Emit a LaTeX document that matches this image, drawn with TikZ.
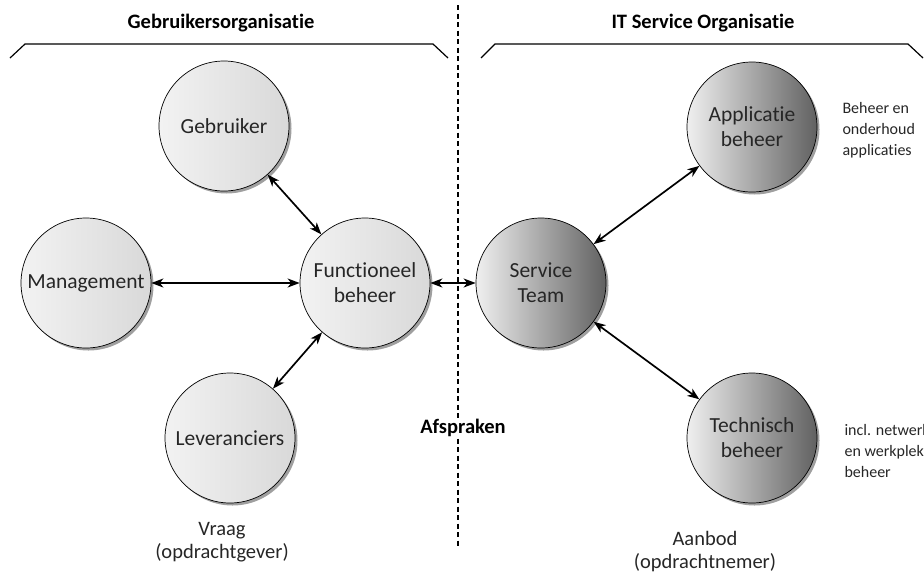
\documentclass[tikz,border=0pt]{standalone}
\usepackage{fontspec}
\setmainfont{Carlito}[Ligatures=NoCommon]
\usetikzlibrary{arrows.meta,shadows}
\begin{document}
\begin{tikzpicture}[x=1pt,y=-1pt,
  ball/.style={circle, draw=black, line width=0.7pt, minimum size=130pt, inner sep=0pt,
    align=center, text=black!85, font=\fontsize{21.5}{25}\selectfont,
    drop shadow={shadow xshift=2.5pt, shadow yshift=-2.5pt, fill=gray!75, opacity=1}},
  userball/.style={ball, left color=gray!10, right color=gray!30},
  itball/.style={ball, left color=gray!12, right color=black!62},
  link/.style={line width=1.7pt, {Stealth[length=12pt,width=9pt,inset=3.5pt]}-{Stealth[length=12pt,width=9pt,inset=3.5pt]}},
  bracket/.style={line width=1.2pt},
  title/.style={font=\bfseries\fontsize{20.5}{24}\selectfont},
  note/.style={font=\fontsize{16}{21}\selectfont, align=left, anchor=west, text=black!85},
  caption/.style={font=\fontsize{20.5}{23}\selectfont, align=center, text=black!85}]
\useasboundingbox (0,0) rectangle (924,574);
\clip (0,0) rectangle (924,574);

% dividing line between the two organisations
\draw[line width=1.1pt, dash pattern=on 5pt off 3.5pt] (458,5) -- (458,546);

% headings and brackets
\node[title] (tuser) at (221,23) {Gebruikersorganisatie};
\node[title] (tit) at (703,23) {IT Service Organisatie};
\draw[bracket] (10,58) -- (25,44) -- (433,44) -- (448,58);
\draw[bracket] (481,58) -- (495,44) -- (908,44) -- (923,58);

% user side
\node[userball] (geb) at (224,126) {Gebruiker};
\node[userball] (man) at (86,283) {Management};
\node[userball] (fun) at (365,283) {Functioneel\\beheer};
\node[userball] (lev) at (230,438) {Leveranciers};

% IT side
\node[itball] (st) at (541,283) {Service\\Team};
\node[itball] (app) at (752,127) {Applicatie\\beheer};
\node[itball] (tech) at (752,438) {Technisch\\beheer};

% connections
\draw[link] (geb) -- (fun);
\draw[link] (man) -- (fun);
\draw[link] (lev) -- (fun);
\draw[link] (fun) -- (st);
\draw[link] (st) -- (app);
\draw[link] (st) -- (tech);

% side notes
\node[note] (napp) at (839,130) {Beheer en\\onderhoud\\applicaties};
\node[note] (ntech) at (841,451) {incl. netwerk\\en werkplek\\beheer};

% agreement label and captions
\node[font=\bfseries\fontsize{20.5}{24}\selectfont, fill=white, inner sep=1pt] (afs) at (463,428) {Afspraken};
\node[caption] (vraag) at (222,542) {Vraag\\(opdrachtgever)};
\node[caption] (aanbod) at (705,552) {Aanbod\\(opdrachtnemer)};
\end{tikzpicture}
\end{document}
